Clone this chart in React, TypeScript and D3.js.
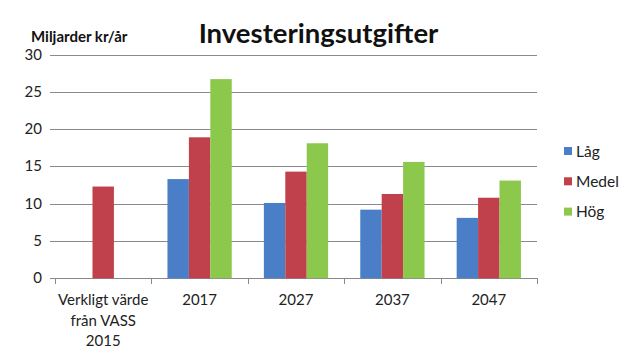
import React from "react";
import * as d3 from "d3";

const categories: string[][] = [["Verkligt värde", "från VASS", "2015"], ["2017"], ["2027"], ["2037"], ["2047"]];
const seriesNames = ["Låg", "Medel", "Hög"];
const lag: (number | null)[] = [null, 13.3, 10.1, 9.2, 8.1];
const medel: (number | null)[] = [12.3, 18.9, 14.3, 11.3, 10.8];
const hog: (number | null)[] = [null, 26.7, 18.1, 15.6, 13.1];
const yTicks = [0, 5, 10, 15, 20, 25, 30];
const colors = ["#4A7EC6", "#C0414B", "#8CC84C"];

const W = 638, H = 362;
const font = "Lato, 'Open Sans', sans-serif";

export default function App() {
  const series = [lag, medel, hog];
  const x = d3.scaleBand<number>().domain(categories.map((_, i) => i)).range([55, 537]);
  const y = d3.scaleLinear().domain([0, 30]).range([278.3, 54.5]);
  const bw = x.bandwidth() / 4.5;
  const grey = "#8a8a8a";
  return (
    <svg width={W} height={H} style={{ position: "absolute", left: 0, top: 0, background: "#fff" }} fontFamily={font}>
      <rect width={W} height={H} fill="#fff" />
      {yTicks.map((t) => (
        <g key={t}>
          <line x1={50} x2={537} y1={Math.round(y(t)) + 0.5} y2={Math.round(y(t)) + 0.5} stroke={grey} strokeWidth={1} />
          <text x={42} y={y(t) + 5} textAnchor="end" fontSize={15} fill="#222">{t}</text>
        </g>
      ))}
      {categories.map((_, i) => (
        <line key={i} x1={Math.round(x(i)!) + 0.5} x2={Math.round(x(i)!) + 0.5} y1={278} y2={284} stroke={grey} />
      ))}
      <line x1={537.5} x2={537.5} y1={278} y2={284} stroke={grey} />
      {categories.map((_, i) => {
        const present = series.map((s, k) => ({ v: s[i], k })).filter((d) => d.v != null);
        const start = x(i)! + x.bandwidth() / 2 - (present.length * bw) / 2;
        return present.map((d, j) => (
          <rect key={i + "-" + d.k} x={start + j * bw} width={bw} y={y(d.v as number)} height={y(0) - y(d.v as number)} fill={colors[d.k]} />
        ));
      })}
      {categories.map((lines, i) => (
        <text key={i} x={x(i)! + x.bandwidth() / 2} y={305} textAnchor="middle" fontSize={15} fill="#222">
          {lines.map((l, j) => (
            <tspan key={j} x={x(i)! + x.bandwidth() / 2} dy={j === 0 ? 0 : 20.5}>{l}</tspan>
          ))}
        </text>
      ))}
      <text x={318.5} y={42.5} textAnchor="middle" fontSize={27.5} fontWeight="bold" fill="#111">Investeringsutgifter</text>
      <text x={31} y={41.5} fontSize={15} fontWeight="bold" fill="#111">Miljarder kr/år</text>
      {seriesNames.map((n, k) => {
        const cy = 151 + k * 30.3;
        return (
          <g key={n}>
            <rect x={564} y={cy - 4} width={8} height={8} fill={colors[k]} />
            <text x={576} y={cy + 5.5} fontSize={15.5} fill="#222">{n}</text>
          </g>
        );
      })}
    </svg>
  );
}
